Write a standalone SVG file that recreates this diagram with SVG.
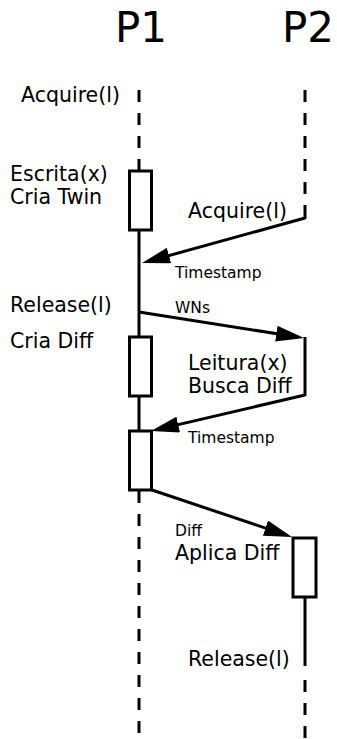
<svg xmlns="http://www.w3.org/2000/svg" width="337" height="739" viewBox="0 0 337 739">
  <style>
    text { font-family: "DejaVu Sans", Verdana, sans-serif; fill: #000; }
    .title { font-size: 42px; }
    .lbl { font-size: 20.5px; }
    .sm { font-size: 15.5px; }
    .solid { stroke: #000; stroke-width: 3; fill: none; }
    .dash { stroke: #000; stroke-width: 3; fill: none; stroke-dasharray: 12 11; }
    .box { stroke: #000; stroke-width: 3; fill: #fff; }
    .msg { stroke: #000; stroke-width: 3; fill: none; marker-end: url(#head); }
  </style>
  <defs>
    <marker id="head" markerUnits="userSpaceOnUse" markerWidth="30" markerHeight="18" refX="22" refY="8" orient="auto">
      <path d="M0,0 L28,8 L0,16 z" fill="#000"/>
    </marker>
  </defs>

  <rect width="337" height="739" fill="#fff"/>

  <!-- process P1 -->
  <g id="p1">
    <text class="title" x="115" y="42">P1</text>
    <line class="dash" x1="139" y1="90" x2="139" y2="171"/>
    <line class="solid" x1="139" y1="230" x2="139" y2="337"/>
    <line class="solid" x1="139" y1="396" x2="139" y2="431"/>
    <line class="dash" x1="139" y1="491" x2="139" y2="739"/>
  </g>

  <!-- process P2 -->
  <g id="p2">
    <text class="title" x="282" y="42">P2</text>
    <line class="dash" x1="305" y1="90" x2="305" y2="206"/>
    <line class="solid" x1="305" y1="206" x2="305" y2="219"/>
    <line class="solid" x1="305" y1="337" x2="305" y2="396"/>
    <line class="solid" x1="305" y1="597" x2="305" y2="666"/>
    <line class="dash" x1="305" y1="680" x2="305" y2="739"/>
  </g>

  <!-- activations -->
  <g id="escrita">
    <rect class="box" x="129.5" y="171" width="22" height="59"/>
    <text class="lbl" x="10" y="181">Escrita(x)</text>
    <text class="lbl" x="10" y="204">Cria Twin</text>
  </g>
  <g id="cria-diff">
    <rect class="box" x="129.5" y="337" width="22" height="59"/>
  </g>
  <g id="p1-final">
    <rect class="box" x="129.5" y="431" width="22" height="59"/>
  </g>
  <g id="aplica">
    <rect class="box" x="293" y="538" width="23" height="59"/>
  </g>

  <!-- messages -->
  <g id="connectors">
    <polyline class="msg" points="305,218 147.8,261.4"/>
    <polyline class="msg" points="139,312 298.1,337.1"/>
    <polyline class="msg" points="305,395 156.8,429.6"/>
    <polyline class="msg" points="152,490 286.3,535.1"/>
  </g>

  <!-- event labels -->
  <g id="labels">
    <text class="lbl" x="21" y="102">Acquire(l)</text>
    <text class="lbl" x="188" y="218">Acquire(l)</text>
    <text class="sm" x="175" y="278">Timestamp</text>
    <text class="lbl" x="10" y="312">Release(l)</text>
    <text class="sm" x="175" y="313">WNs</text>
    <text class="lbl" x="10" y="348">Cria Diff</text>
    <text class="lbl" x="188" y="370">Leitura(x)</text>
    <text class="lbl" x="188" y="393">Busca Diff</text>
    <text class="sm" x="188" y="443">Timestamp</text>
    <text class="sm" x="175" y="536">Diff</text>
    <text class="lbl" x="175" y="560">Aplica Diff</text>
    <text class="lbl" x="188" y="666">Release(l)</text>
  </g>
</svg>
